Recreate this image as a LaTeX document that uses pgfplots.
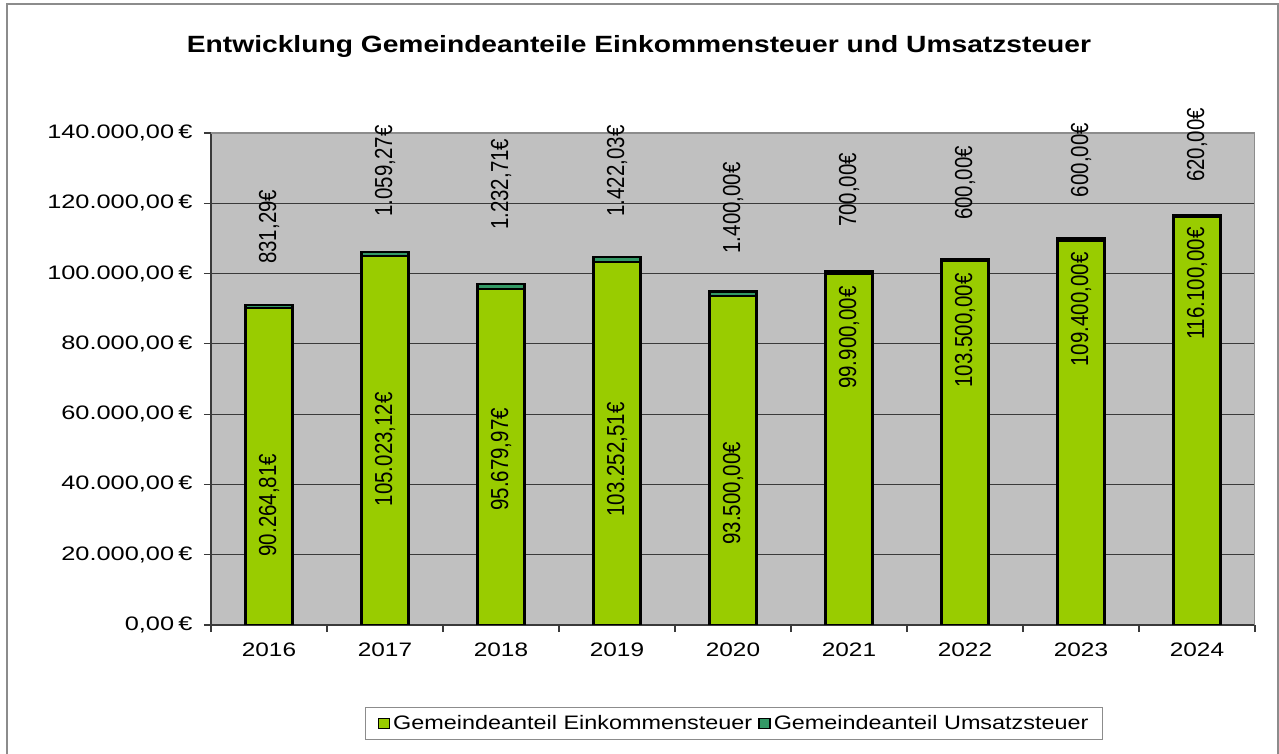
\documentclass[border=0pt]{standalone}
\usepackage{pgfplots}
\usepackage{pgfplotstable}
\usepackage{fontspec}
\setmainfont{Liberation Sans}
\pgfplotsset{compat=1.18}
\definecolor{plotgray}{HTML}{C0C0C0}
\definecolor{egreen}{HTML}{99CC00}
\definecolor{uteal}{HTML}{339966}
\definecolor{gridc}{HTML}{3A3A3A}
\definecolor{framec}{HTML}{8C8C8C}
\newcommand\sx[1]{\scalebox{1.25}[1]{#1}}
\newcommand\sy[1]{\scalebox{1.3}[1]{#1}}
\newcommand\slg[1]{\scalebox{1.2}[1]{#1}}
\newcommand\fs{\fontsize{19.5}{23}\selectfont}

\pgfplotstableread{
x e u elpos ulpos elab ulab
0 90264.81 831.29 34100 113300 90.264,81€ 831,29€
1 105023.12 1059.27 50000 129200 105.023,12€ 1.059,27€
2 95679.97 1232.71 47100 125400 95.679,97€ 1.232,71€
3 103252.51 1422.03 47100 129200 103.252,51€ 1.422,03€
4 93500.00 1400.00 37500 118700 93.500,00€ 1.400,00€
5 99900.00 700.00 81800 123800 99.900,00€ 700,00€
6 103500.00 600.00 83800 125800 103.500,00€ 600,00€
7 109400.00 600.00 89800 132300 109.400,00€ 600,00€
8 116100.00 620.00 97100 136600 116.100,00€ 620,00€
}\data

\begin{document}
\begin{tikzpicture}
\useasboundingbox (-211pt,-129pt) rectangle (1068pt,625pt);
\draw[framec, line width=1.5pt] (-204pt,-135pt) -- (-204pt,621pt) -- (1067pt,621pt) -- (1067pt,-135pt);
\begin{axis}[
  at={(0pt,0pt)}, anchor=south west,
  scale only axis, width=1044pt, height=492pt,
  xmin=-0.5, xmax=8.5, ymin=0, ymax=140000,
  scaled y ticks=false,
  axis lines*=left,
  axis line style={-, draw=gridc, line width=1.2pt},
  axis background/.style={fill=plotgray},
  ymajorgrids, grid style={gridc, line width=1pt},
  tick align=outside,
  major tick length=7pt,
  tick style={gridc, line width=1.2pt},
  ytick={0,20000,40000,60000,80000,100000,120000,140000},
  yticklabels={{\sy{0,00\,€}},{\sy{20.000,00\,€}},{\sy{40.000,00\,€}},{\sy{60.000,00\,€}},{\sy{80.000,00\,€}},{\sy{100.000,00\,€}},{\sy{120.000,00\,€}},{\sy{140.000,00\,€}}},
  yticklabel style={font=\fs, xshift=-8pt},
  xtick={-0.5,0.5,1.5,2.5,3.5,4.5,5.5,6.5,7.5,8.5},
  xticklabels={},
  extra x ticks={0,1,2,3,4,5,6,7,8},
  extra x tick labels={\sx{2016},\sx{2017},\sx{2018},\sx{2019},\sx{2020},\sx{2021},\sx{2022},\sx{2023},\sx{2024}},
  extra x tick style={major tick length=0pt, xticklabel style={font=\fs, yshift=-14pt}},
  legend columns=2,
  legend style={at={(0.501,-0.200)}, anchor=center, draw=framec, line width=1.2pt,
    font=\fs, inner xsep=12pt, inner ysep=6pt,
    /tikz/every odd column/.append style={column sep=1pt},
    /tikz/every even column/.append style={column sep=4pt}},
]
\addlegendimage{legend image code/.code={\draw[fill=egreen, draw=black, line width=1.6pt] (0pt,-5pt) rectangle (11pt,5pt);}}
\addlegendentry{\slg{Gemeindeanteil Einkommensteuer}}
\addlegendimage{legend image code/.code={\draw[fill=uteal, draw=black, line width=1.6pt] (0pt,-5pt) rectangle (11pt,5pt);}}
\addlegendentry{\slg{Gemeindeanteil Umsatzsteuer}}

\addplot[forget plot, ybar, bar width=47pt, bar shift=0pt, fill=uteal, draw=black, line width=2.1pt]
  table[x=x, y expr=\thisrow{e}+\thisrow{u}] {\data};
\addplot[forget plot, ybar, bar width=47pt, bar shift=0pt, fill=egreen, draw=black, line width=2.1pt]
  table[x=x, y=e] {\data};

\addplot[forget plot, draw=none, mark=none, point meta=explicit symbolic,
  nodes near coords={\scalebox{1}[1.2]{\pgfplotspointmeta}}, nodes near coords align={center},
  every node near coord/.append style={rotate=90, font=\fontsize{20.5}{24}\selectfont, inner sep=0pt, text=black}]
  table[x=x, y=elpos, meta=elab] {\data};
\addplot[forget plot, draw=none, mark=none, point meta=explicit symbolic,
  nodes near coords={\scalebox{1}[1.2]{\pgfplotspointmeta}}, nodes near coords align={center},
  every node near coord/.append style={rotate=90, font=\fontsize{20.5}{24}\selectfont, inner sep=0pt, text=black}]
  table[x=x, y=ulpos, meta=ulab] {\data};

\draw[framec, line width=1.2pt] (rel axis cs:0,1) -- (rel axis cs:1,1) -- (rel axis cs:1,0);
\end{axis}
\node[anchor=base, font=\fontsize{23.5}{28}\selectfont\bfseries] at (428pt,572pt) {\scalebox{1.2}[1]{Entwicklung Gemeindeanteile Einkommensteuer und Umsatzsteuer}};
\end{tikzpicture}
\end{document}
